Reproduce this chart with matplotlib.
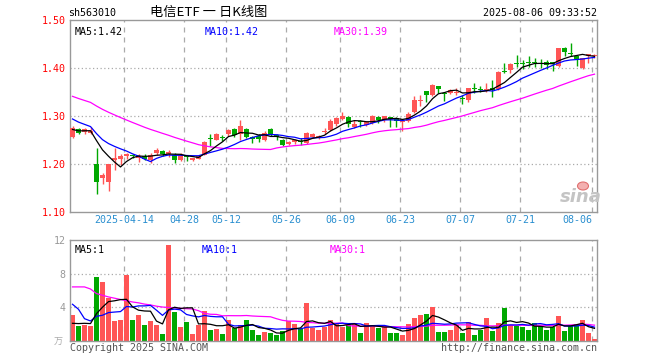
import numpy as np
import pandas as pd
import matplotlib
matplotlib.use('Agg')
import matplotlib.pyplot as plt
from matplotlib.patches import Ellipse

# ---------------- data ----------------
dates = ['03-31', '04-01', '04-02', '04-03', '04-07', '04-08', '04-09', '04-10', '04-11',
         '04-14', '04-15', '04-16', '04-17', '04-18', '04-21', '04-22', '04-23', '04-24', '04-25',
         '04-28', '04-29', '04-30', '05-06', '05-07', '05-08', '05-09',
         '05-12', '05-13', '05-14', '05-15', '05-16', '05-19', '05-20', '05-21', '05-22', '05-23',
         '05-26', '05-27', '05-28', '05-29', '05-30', '06-03', '06-04', '06-05', '06-06',
         '06-09', '06-10', '06-11', '06-12', '06-13', '06-16', '06-17', '06-18', '06-19', '06-20',
         '06-23', '06-24', '06-25', '06-26', '06-27', '06-30', '07-01', '07-02', '07-03', '07-04',
         '07-07', '07-08', '07-09', '07-10', '07-11', '07-14', '07-15', '07-16', '07-17', '07-18',
         '07-21', '07-22', '07-23', '07-24', '07-25', '07-28', '07-29', '07-30', '07-31', '08-01',
         '08-04', '08-05', '08-06']

open_ = [1.257, 1.272, 1.266, 1.264, 1.200, 1.170, 1.162, 1.208, 1.210, 1.216,
         1.219, 1.213, 1.216, 1.209, 1.222, 1.227, 1.220, 1.219, 1.209, 1.216,
         1.208, 1.211, 1.219, 1.254, 1.250, 1.256, 1.262, 1.272, 1.263, 1.272,
         1.257, 1.259, 1.250, 1.273, 1.261, 1.250, 1.241, 1.245, 1.248, 1.243,
         1.257, 1.255, 1.266, 1.271, 1.284, 1.293, 1.297, 1.278, 1.288, 1.281,
         1.285, 1.298, 1.291, 1.298, 1.296, 1.288, 1.290, 1.309, 1.331, 1.352,
         1.344, 1.363, 1.347, 1.347, 1.348, 1.338, 1.333, 1.358, 1.357, 1.355,
         1.359, 1.356, 1.392, 1.396, 1.411, 1.411, 1.413, 1.412, 1.411, 1.412,
         1.412, 1.404, 1.441, 1.430, 1.424, 1.399, 1.425, 1.425]
high = [1.279, 1.274, 1.276, 1.277, 1.233, 1.181, 1.201, 1.233, 1.221, 1.223,
        1.221, 1.220, 1.221, 1.222, 1.233, 1.229, 1.229, 1.222, 1.222, 1.217,
        1.213, 1.218, 1.248, 1.262, 1.264, 1.260, 1.272, 1.274, 1.291, 1.274,
        1.258, 1.262, 1.269, 1.274, 1.262, 1.252, 1.247, 1.253, 1.255, 1.267,
        1.264, 1.261, 1.274, 1.293, 1.297, 1.309, 1.299, 1.292, 1.292, 1.289,
        1.302, 1.300, 1.300, 1.298, 1.297, 1.292, 1.309, 1.342, 1.344, 1.352,
        1.366, 1.363, 1.349, 1.356, 1.358, 1.344, 1.359, 1.368, 1.363, 1.368,
        1.375, 1.393, 1.410, 1.410, 1.428, 1.417, 1.424, 1.420, 1.418, 1.417,
        1.413, 1.441, 1.444, 1.453, 1.427, 1.420, 1.430, 1.429]
low = [1.255, 1.262, 1.263, 1.262, 1.138, 1.158, 1.144, 1.188, 1.197, 1.211,
       1.213, 1.204, 1.208, 1.202, 1.218, 1.216, 1.215, 1.203, 1.207, 1.206,
       1.206, 1.210, 1.219, 1.238, 1.249, 1.247, 1.258, 1.257, 1.251, 1.255,
       1.244, 1.245, 1.248, 1.259, 1.251, 1.237, 1.240, 1.241, 1.240, 1.241,
       1.255, 1.253, 1.262, 1.269, 1.280, 1.291, 1.277, 1.274, 1.278, 1.279,
       1.283, 1.286, 1.288, 1.278, 1.277, 1.268, 1.288, 1.306, 1.321, 1.330,
       1.342, 1.347, 1.331, 1.345, 1.344, 1.325, 1.330, 1.347, 1.349, 1.350,
       1.340, 1.354, 1.389, 1.390, 1.402, 1.397, 1.403, 1.403, 1.401, 1.397,
       1.394, 1.403, 1.424, 1.424, 1.404, 1.398, 1.411, 1.421]
close = [1.274, 1.265, 1.273, 1.269, 1.163, 1.177, 1.199, 1.213, 1.217, 1.220,
         1.216, 1.217, 1.210, 1.219, 1.229, 1.220, 1.226, 1.208, 1.218, 1.214,
         1.212, 1.216, 1.246, 1.252, 1.262, 1.255, 1.271, 1.261, 1.279, 1.257,
         1.252, 1.253, 1.264, 1.261, 1.257, 1.240, 1.246, 1.249, 1.246, 1.264,
         1.262, 1.259, 1.269, 1.290, 1.296, 1.300, 1.283, 1.283, 1.287, 1.287,
         1.301, 1.292, 1.299, 1.293, 1.290, 1.290, 1.304, 1.333, 1.334, 1.344,
         1.365, 1.356, 1.345, 1.354, 1.349, 1.336, 1.358, 1.356, 1.355, 1.357,
         1.354, 1.392, 1.391, 1.408, 1.409, 1.409, 1.411, 1.410, 1.409, 1.407,
         1.408, 1.441, 1.434, 1.429, 1.418, 1.420, 1.429, 1.426]
volume = [3.06, 1.74, 1.86, 1.74, 7.62, 6.94, 5.06, 2.34, 2.46, 7.78,
          2.46, 3.06, 1.86, 2.34, 1.86, 0.78, 11.46, 3.42, 1.62, 2.22,
          0.78, 1.86, 3.54, 1.26, 1.38, 0.78, 2.46, 1.50, 1.86, 2.46,
          1.26, 0.66, 1.02, 0.90, 0.66, 1.14, 2.34, 1.98, 1.38, 4.50,
          1.50, 1.26, 1.62, 2.46, 1.94, 1.66, 1.86, 2.06, 0.90, 2.10,
          1.86, 1.54, 1.62, 0.90, 0.90, 0.66, 1.98, 2.70, 3.06, 3.18,
          4.02, 1.02, 1.02, 1.26, 1.86, 0.90, 2.22, 0.66, 1.26, 2.70,
          1.14, 2.10, 3.94, 1.86, 1.74, 1.62, 1.26, 2.10, 1.74, 1.26,
          1.62, 2.94, 1.14, 1.74, 1.98, 2.46, 0.90, 0.18]

# sessions before the visible window (only used by the moving averages)
prior_close = [1.400, 1.395, 1.390, 1.390, 1.385, 1.380, 1.380, 1.380, 1.375, 1.370,
               1.365, 1.360, 1.355, 1.350, 1.345, 1.345, 1.340, 1.335, 1.330, 1.321,
               1.330, 1.320, 1.315, 1.310, 1.303, 1.280, 1.272, 1.268, 1.266]
prior_volume = [1.7, 1.9, 9.2, 24.1, 12.9, 11.1, 6.8, 7.0, 12.3, 7.0,
                6.1, 6.4, 5.3, 6.4, 3.8, 13.0, 4.9, 3.1, 3.7, 2.0,
                7.7, 13.1, 4.5, 2.0, 5.7, 1.9, 1.7, 1.9, 1.7]

tick_dates = ['04-14', '04-28', '05-12', '05-26', '06-09', '06-23', '07-07', '07-21', '08-06']
tick_labels = ['2025-04-14', '04-28', '05-12', '05-26', '06-09', '06-23', '07-07', '07-21', '08-06']
price_ticks = [1.10, 1.20, 1.30, 1.40, 1.50]
vol_ticks = [4, 8, 12]

code = 'sh563010'
title = '电信ETF 一 日K线图'
stamp = '2025-08-06 09:33:52'

# ---------------- styling ----------------
W, H = 660, 360
RED = '#ff5555'
GREEN = '#00a800'
GRID = '#aaaaaa'
MONO = 'DejaVu Sans Mono'
FS = 7.2

def fx(px):
    return px / W

def fy(py):
    return 1 - py / H

fig = plt.figure(figsize=(W / 100, H / 100), dpi=100)
fig.patch.set_facecolor('white')

ax = fig.add_axes([fx(70), fy(212), (597 - 70) / W, (212 - 20) / H])
axv = fig.add_axes([fx(70), fy(340.5), (597 - 70) / W, (340.5 - 240) / H])

n = len(close)
idx = np.arange(n)
o = np.array(open_); c = np.array(close); h = np.array(high); l = np.array(low)
v = np.array(volume)
up = c >= o
cols = np.where(up, RED, GREEN)

all_close = pd.Series(prior_close + close)
all_vol = pd.Series(prior_volume + volume)
k = len(prior_close)
ma5 = all_close.rolling(5).mean().values[k:]
ma10 = all_close.rolling(10).mean().values[k:]
ma30 = all_close.rolling(30).mean().values[k:]
vma5 = all_vol.rolling(5).mean().values[k:]
vma10 = all_vol.rolling(10).mean().values[k:]
vma30 = all_vol.rolling(30).mean().values[k:]

xlim = (-2.5 / 6, 524.5 / 6)
grid_x = [dates.index(d) - 0.35 for d in tick_dates]

for a in (ax, axv):
    a.set_xlim(*xlim)
    for s in a.spines.values():
        s.set_color('#999999')
        s.set_linewidth(1.0)
    for gx in grid_x:
        a.axvline(gx, color=GRID, lw=0.9, ls=(0, (4, 4)), zorder=0)
    a.tick_params(length=0)

# price panel
ax.set_ylim(1.10, 1.50)
for yv in price_ticks[1:-1]:
    ax.axhline(yv, color=GRID, lw=0.9, ls=(0, (1, 2)), zorder=0)
ax.vlines(idx, l, h, colors=cols, lw=1.0, zorder=2)
body_bottom = np.minimum(o, c)
body_h = np.maximum(np.abs(c - o), 0.0018)
ax.bar(idx, body_h, bottom=body_bottom, width=0.82, color=cols, lw=0, zorder=3)
ax.plot(idx, ma30, color='#ff00ff', lw=0.9, zorder=4)
ax.plot(idx, ma10, color='#0000ff', lw=0.9, zorder=4)
ax.plot(idx, ma5, color='#000000', lw=0.9, zorder=5)

ax.set_yticks(price_ticks)
ax.set_yticklabels([f'{p:.2f}' for p in price_ticks], color='#ff0000',
                   fontfamily=MONO, fontsize=FS)
ax.tick_params(axis='y', pad=3)
ax.set_xticks(grid_x)
ax.set_xticklabels(tick_labels, color='#2a8fd0', fontfamily=MONO, fontsize=FS)
ax.tick_params(axis='x', pad=2)
ax.get_xticklabels()[-1].set_ha('right')

ax.text(0.008, 0.965, f'MA5:{ma5[-1]:.2f}', transform=ax.transAxes, color='#000000',
        fontfamily=MONO, fontsize=FS, va='top', ha='left')
ax.text((205 - 70) / 527, 0.965, f'MA10:{ma10[-1]:.2f}', transform=ax.transAxes,
        color='#0000ff', fontfamily=MONO, fontsize=FS, va='top', ha='left')
ax.text((334 - 70) / 527, 0.965, f'MA30:{ma30[-1]:.2f}', transform=ax.transAxes,
        color='#ff00ff', fontfamily=MONO, fontsize=FS, va='top', ha='left')

# volume panel
axv.set_ylim(0, 12)
for yv in vol_ticks[:-1]:
    axv.axhline(yv, color=GRID, lw=0.9, ls=(0, (1, 2)), zorder=0)
axv.bar(idx, v, width=0.82, color=cols, lw=0, zorder=2)
axv.plot(idx, vma30, color='#ff00ff', lw=0.9, zorder=3)
axv.plot(idx, vma10, color='#0000ff', lw=0.9, zorder=3)
axv.plot(idx, vma5, color='#000000', lw=0.9, zorder=4)
axv.set_yticks(vol_ticks)
axv.set_yticklabels([str(t) for t in vol_ticks], color='#999999',
                    fontfamily=MONO, fontsize=FS)
axv.tick_params(axis='y', pad=3)
axv.set_xticks([])

axv.text(0.008, 0.955, f'MA5:{int(vma5[-1])}', transform=axv.transAxes, color='#000000',
         fontfamily=MONO, fontsize=FS, va='top', ha='left')
axv.text((202 - 70) / 527, 0.955, f'MA10:{int(vma10[-1])}', transform=axv.transAxes,
         color='#0000ff', fontfamily=MONO, fontsize=FS, va='top', ha='left')
axv.text((330 - 70) / 527, 0.955, f'MA30:{int(vma30[-1])}', transform=axv.transAxes,
         color='#ff00ff', fontfamily=MONO, fontsize=FS, va='top', ha='left')

# header texts
fig.text(fx(68), fy(13), code, fontfamily=MONO, fontsize=FS, color='#000000',
         ha='left', va='center')
fig.text(fx(209), fy(12.5), title, family=['Noto Sans CJK SC', 'DejaVu Sans'],
         fontsize=9.5, color='#000000', ha='center', va='center')
fig.text(fx(597), fy(13), stamp, fontfamily=MONO, fontsize=FS, color='#000000',
         ha='right', va='center')

# footer texts
fig.text(fx(63), fy(342), '万', family=['Noto Sans CJK SC', 'DejaVu Sans'],
         fontsize=6.5, color='#aaaaaa', ha='right', va='center')
fig.text(fx(70), fy(348), 'Copyright 2025 SINA.COM', fontfamily=MONO, fontsize=FS,
         color='#555555', ha='left', va='center')
fig.text(fx(597), fy(348), 'http://finance.sina.com.cn', fontfamily=MONO, fontsize=FS,
         color='#555555', ha='right', va='center')

# sina watermark
fig.text(fx(581), fy(197), 'sina', fontsize=13, fontweight='bold', style='italic',
         color='#c4c4c4', ha='center', va='center', family='DejaVu Sans')
fig.patches.append(Ellipse((fx(583), fy(186)), 11 / W, 8 / H, transform=fig.transFigure,
                           facecolor='#f3b0b0', edgecolor='#e07070', lw=0.8))

fig.savefig('out.png', dpi=100, facecolor='white')
